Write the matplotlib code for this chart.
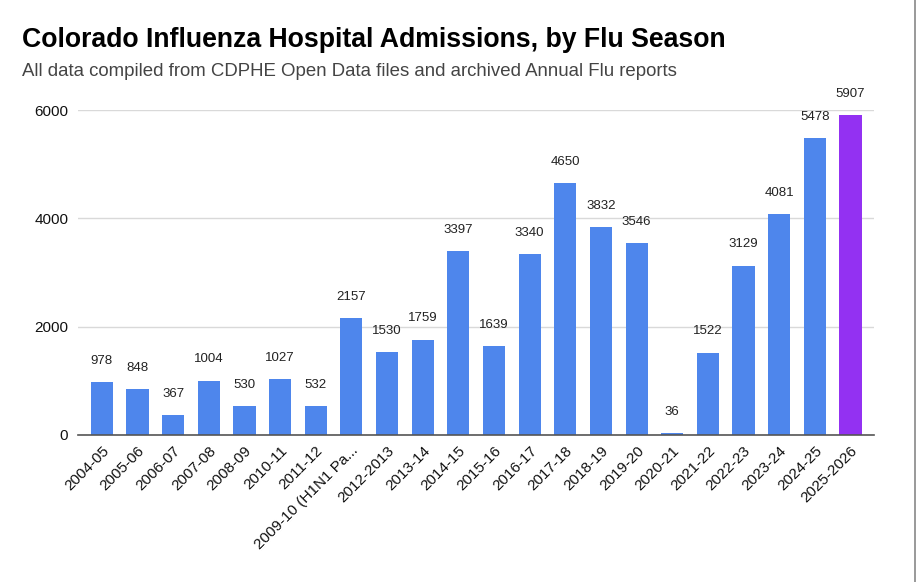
import matplotlib
matplotlib.use("Agg")
import matplotlib.pyplot as plt
from matplotlib.lines import Line2D

seasons = ["2004-05", "2005-06", "2006-07", "2007-08", "2008-09", "2010-11", "2011-12",
           "2009-10 (H1N1 Pa...", "2012-2013", "2013-14", "2014-15", "2015-16", "2016-17",
           "2017-18", "2018-19", "2019-20", "2020-21", "2021-22", "2022-23", "2023-24",
           "2024-25", "2025-2026"]
admissions = [978, 848, 367, 1004, 530, 1027, 532, 2157, 1530, 1759, 3397, 1639, 3340,
              4650, 3832, 3546, 36, 1522, 3129, 4081, 5478, 5907]
yticks = [0, 2000, 4000, 6000]

plt.rcParams['font.family'] = ['Liberation Sans', 'DejaVu Sans']

fig = plt.figure(figsize=(9.16, 5.82), dpi=100)
ax = fig.add_axes([78/916, 1-435/582, (874-78)/916, (435-110)/582])

blue = "#4E86EC"
purple = "#9331F2"
colors = [blue] * (len(admissions) - 1) + [purple]
x = list(range(len(seasons)))
bars = ax.bar(x, admissions, width=0.62, color=colors, zorder=3)

for xi, v in zip(x, admissions):
    ax.annotate(str(v), (xi, v), xytext=(0, 11), textcoords="offset points",
                ha="center", va="bottom", fontsize=9.5, color="#222222",
                annotation_clip=False)

ax.set_xlim(-0.67, len(seasons) - 1 + 0.66)
ax.set_ylim(0, 6000)
ax.set_yticks(yticks)
ax.set_yticklabels([str(t) for t in yticks], fontsize=11, color="#111111")
ax.set_xticks(x)
ax.set_xticklabels(seasons, rotation=45, ha="right", rotation_mode="anchor",
                   fontsize=11, color="#111111")
ax.tick_params(axis="y", length=0, pad=7)
ax.tick_params(axis="x", length=0, pad=6)
ax.grid(axis="y", color="#d9d9d9", linewidth=1, zorder=0)
for s in ["top", "right", "left"]:
    ax.spines[s].set_visible(False)
ax.spines["bottom"].set_color("#555555")
ax.spines["bottom"].set_linewidth(1.2)
ax.spines["bottom"].set_zorder(4)

fig.text(22/916, 1-40/582, "Colorado Influenza Hospital Admissions, by Flu Season",
         fontsize=19.2, fontweight="bold", color="#000000", va="center", ha="left")
fig.text(22/916, 1-71/582, "All data compiled from CDPHE Open Data files and archived Annual Flu reports",
         fontsize=13.4, color="#444444", va="center", ha="left")

fig.add_artist(Line2D([914.5/916, 914.5/916], [0, 1], color="#888888", linewidth=1.2,
                      transform=fig.transFigure))

fig.savefig("out.png", dpi=100, facecolor="white")
